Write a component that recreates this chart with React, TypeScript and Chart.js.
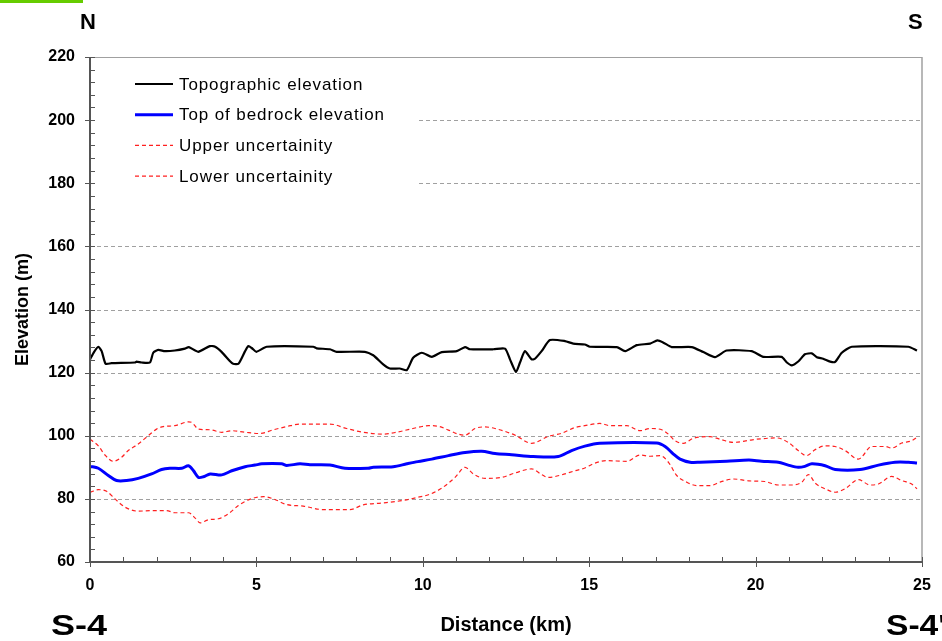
import React, { useEffect, useRef } from "react";
import { Chart, registerables } from "chart.js";

Chart.register(...registerables);

const FONT = "'Liberation Sans', Arial, Helvetica, sans-serif";

// ---- Data (distance in km, elevation in m) ----
const topoKm = [0, 0.12, 0.25, 0.35, 0.47, 0.65, 1.35, 1.4, 1.55, 1.8, 1.9, 2.05, 2.25, 2.55, 2.85, 2.97, 3.25, 3.6, 3.76, 3.96, 4.2, 4.3, 4.46, 4.66, 4.76, 4.86, 5.0, 5.31, 6.71, 6.81, 7.21, 7.41, 8.26, 8.51, 8.81, 9.01, 9.31, 9.52, 9.71, 9.97, 10.27, 10.57, 11.02, 11.27, 11.42, 12.12, 12.47, 12.62, 12.8, 12.92, 13.07, 13.27, 13.37, 13.57, 13.82, 14.27, 14.52, 14.87, 15.02, 15.83, 16.08, 16.43, 16.83, 17.05, 17.23, 17.48, 18.08, 18.43, 18.78, 19.13, 19.88, 20.23, 20.78, 20.94, 21.09, 21.29, 21.48, 21.69, 21.84, 22.03, 22.24, 22.39, 22.59, 22.89, 24.59, 24.85];
const topoElev = [124.2, 126.5, 128.2, 126.8, 122.8, 123.0, 123.2, 123.5, 123.2, 123.2, 126.3, 127.2, 126.8, 127.0, 127.6, 128.1, 126.6, 128.4, 128.2, 126.5, 123.7, 122.8, 122.8, 126.8, 128.4, 127.8, 126.6, 128.2, 128.2, 127.7, 127.4, 126.6, 126.6, 125.5, 122.6, 121.3, 121.3, 120.8, 124.7, 126.3, 125.0, 126.5, 126.8, 128.1, 127.4, 127.4, 127.6, 124.2, 120.2, 123.2, 126.8, 124.2, 124.4, 126.8, 130.3, 130.0, 129.2, 128.9, 128.2, 128.1, 126.8, 128.7, 129.2, 130.2, 129.5, 128.1, 128.1, 126.5, 124.9, 127.0, 126.8, 125.0, 125.0, 123.2, 122.3, 123.6, 125.8, 126.1, 124.9, 124.4, 123.5, 123.4, 126.3, 128.2, 128.2, 127.0];

const bedKm = [0, 0.25, 0.55, 0.8, 1.1, 1.45, 1.85, 2.15, 2.4, 2.76, 2.96, 3.11, 3.26, 3.41, 3.61, 3.96, 4.26, 4.66, 4.96, 5.16, 5.76, 5.91, 6.31, 6.61, 7.21, 7.66, 8.36, 8.51, 9.11, 9.52, 9.85, 10.27, 10.77, 11.27, 11.77, 12.17, 12.67, 13.32, 14.07, 14.47, 14.87, 15.32, 17.03, 17.28, 17.53, 17.73, 18.03, 18.33, 19.13, 19.8, 20.18, 20.68, 20.98, 21.28, 21.48, 21.69, 22.09, 22.39, 23.14, 23.69, 24.19, 24.59, 24.85];
const bedElev = [90.3, 89.7, 87.4, 85.8, 85.8, 86.5, 87.9, 89.3, 89.7, 89.7, 90.5, 88.9, 86.8, 87.0, 87.9, 87.6, 88.9, 90.2, 90.7, 91.1, 91.1, 90.6, 91.1, 90.8, 90.7, 89.7, 89.7, 90.0, 90.2, 91.1, 91.8, 92.6, 93.7, 94.7, 95.1, 94.4, 94.0, 93.4, 93.4, 95.3, 96.7, 97.6, 97.7, 96.6, 94.2, 92.6, 91.6, 91.6, 91.9, 92.3, 91.9, 91.6, 90.7, 90.0, 90.3, 91.1, 90.5, 89.3, 89.3, 90.7, 91.6, 91.6, 91.4];

const upperKm = [0, 0.25, 0.45, 0.7, 0.95, 1.15, 1.45, 1.75, 2.0, 2.2, 2.55, 2.96, 3.06, 3.26, 3.61, 3.96, 4.26, 4.66, 5.1, 5.51, 5.91, 6.31, 7.21, 7.71, 8.11, 8.81, 9.21, 9.62, 9.92, 10.17, 10.47, 10.77, 11.07, 11.27, 11.57, 11.87, 12.17, 12.77, 13.27, 13.77, 14.17, 14.57, 14.87, 15.32, 15.62, 16.13, 16.53, 16.83, 17.18, 17.38, 17.58, 17.83, 18.13, 18.63, 18.93, 19.33, 19.83, 20.03, 20.63, 20.98, 21.28, 21.53, 21.79, 22.09, 22.39, 22.69, 23.09, 23.49, 23.89, 24.09, 24.39, 24.69, 24.85];
const upperElev = [98.9, 96.8, 93.9, 91.9, 93.2, 95.3, 97.4, 100.0, 102.1, 102.9, 103.2, 104.4, 104.2, 102.1, 101.9, 101.1, 101.6, 101.1, 100.7, 101.9, 102.9, 103.7, 103.7, 102.3, 101.3, 100.5, 101.1, 102.1, 102.8, 103.2, 103.0, 101.8, 100.5, 100.2, 102.3, 102.8, 102.3, 100.2, 97.6, 99.8, 100.8, 102.6, 103.2, 103.9, 103.2, 103.2, 101.6, 102.3, 101.9, 100.5, 98.4, 97.6, 99.2, 99.7, 98.9, 97.9, 98.6, 98.9, 99.3, 97.9, 95.3, 93.7, 95.6, 96.8, 96.6, 95.3, 92.6, 96.6, 96.6, 96.1, 97.7, 98.4, 99.5];

const lowerKm = [0, 0.25, 0.5, 0.75, 1.05, 1.45, 1.85, 2.3, 2.55, 2.96, 3.16, 3.31, 3.56, 3.86, 4.16, 4.46, 4.76, 5.21, 5.51, 5.91, 6.41, 7.01, 7.81, 8.21, 8.81, 9.41, 9.85, 10.17, 10.57, 10.97, 11.27, 11.52, 11.87, 12.37, 12.77, 13.27, 13.57, 13.77, 14.17, 14.57, 14.87, 15.12, 15.52, 16.13, 16.53, 16.83, 17.13, 17.38, 17.63, 17.93, 18.23, 18.63, 18.93, 19.33, 19.8, 20.28, 20.68, 21.09, 21.39, 21.59, 21.79, 22.09, 22.39, 22.69, 23.09, 23.44, 23.69, 24.09, 24.39, 24.69, 24.85];
const lowerElev = [82.1, 82.9, 82.4, 80.0, 77.4, 76.1, 76.3, 76.3, 75.6, 75.6, 73.9, 72.4, 73.4, 73.7, 75.3, 77.9, 79.7, 80.7, 80.0, 78.2, 77.7, 76.6, 76.6, 78.1, 78.7, 79.5, 80.5, 81.3, 83.4, 86.8, 90.0, 87.9, 86.5, 86.8, 88.2, 89.5, 87.7, 86.8, 87.6, 88.9, 89.8, 91.1, 92.1, 91.9, 93.9, 93.5, 93.7, 91.6, 87.4, 85.3, 84.2, 84.2, 85.3, 86.3, 85.7, 85.5, 84.4, 84.4, 85.3, 87.7, 85.0, 83.2, 82.1, 83.2, 86.1, 84.4, 84.7, 87.1, 85.8, 84.7, 83.2];

const seriesLabels = ["Topographic elevation", "Top of bedrock elevation", "Upper uncertainity", "Lower uncertainity"];

const xMin = 0, xMax = 25, xStep = 5, xMinorStep = 1;
const yMin = 60, yMax = 220, yStep = 20, yMinorStep = 4;

const pts = (xs: number[], ys: number[]) => xs.map((x, i) => ({ x, y: ys[i] }));

const framePlugin = {
  id: "frame",
  beforeDatasetsDraw(chart: any) {
    const { ctx, chartArea: a, scales } = chart;
    const ys = scales.y;
    ctx.save();
    // horizontal gridlines
    for (let v = yMin + yStep; v <= yMax; v += yStep) {
      const y = Math.round(ys.getPixelForValue(v)) + 0.5;
      ctx.beginPath();
      ctx.strokeStyle = "#a0a0a0";
      ctx.lineWidth = 1;
      ctx.setLineDash(v === yMax ? [] : [4, 3]);
      ctx.moveTo(a.left, y);
      ctx.lineTo(a.right, y);
      ctx.stroke();
    }
    ctx.setLineDash([]);
    // right border
    ctx.beginPath();
    ctx.strokeStyle = "#a0a0a0";
    ctx.lineWidth = 1.5;
    ctx.moveTo(a.right, a.top);
    ctx.lineTo(a.right, a.bottom);
    ctx.stroke();

    // legend box
    ctx.fillStyle = "#ffffff";
    ctx.fillRect(a.left + 1, a.top + 2, 325, 137);
    chart.data.datasets.forEach((ds: any, i: number) => {
      const y = a.top + 27 + i * 30.7;
      ctx.beginPath();
      ctx.strokeStyle = ds.borderColor;
      ctx.lineWidth = ds.borderWidth;
      ctx.setLineDash(ds.borderDash || []);
      ctx.moveTo(a.left + 45, y);
      ctx.lineTo(a.left + 83, y);
      ctx.stroke();
      ctx.setLineDash([]);
      ctx.fillStyle = "#000";
      ctx.font = `17px ${FONT}`;
      try { (ctx as any).letterSpacing = "0.9px"; } catch (e) { /* ignore */ }
      ctx.textBaseline = "middle";
      ctx.textAlign = "left";
      ctx.fillText(ds.label, a.left + 89, y + 1);
      try { (ctx as any).letterSpacing = "0px"; } catch (e) { /* ignore */ }
    });
    ctx.restore();
  },
  afterDatasetsDraw(chart: any) {
    const { ctx, chartArea: a, scales } = chart;
    const xs = scales.x, ys = scales.y;
    ctx.save();
    ctx.strokeStyle = "#555";
    // axis lines
    ctx.lineWidth = 2;
    ctx.beginPath();
    ctx.moveTo(a.left, a.top);
    ctx.lineTo(a.left, a.bottom);
    ctx.moveTo(a.left, a.bottom);
    ctx.lineTo(a.right, a.bottom);
    ctx.stroke();
    ctx.lineWidth = 1;
    ctx.beginPath();
    for (let v = yMin; v <= yMax; v += yMinorStep) {
      const y = Math.round(ys.getPixelForValue(v)) + 0.5;
      const major = (v - yMin) % yStep === 0;
      ctx.moveTo(a.left - (major ? 5 : 0), y);
      ctx.lineTo(a.left + 5, y);
    }
    for (let v = xMin; v <= xMax; v += xMinorStep) {
      const x = Math.round(xs.getPixelForValue(v)) + 0.5;
      const major = (v - xMin) % xStep === 0;
      ctx.moveTo(x, a.bottom - 5);
      ctx.lineTo(x, a.bottom + (major ? 5 : 0));
    }
    ctx.stroke();
    ctx.restore();
  },
};

export default function App() {
  const ref = useRef<HTMLCanvasElement>(null);
  useEffect(() => {
    const chart = new Chart(ref.current as HTMLCanvasElement, {
      type: "line",
      data: {
        datasets: [
          { label: seriesLabels[0], data: pts(topoKm, topoElev), borderColor: "#000000", borderWidth: 2.2, pointRadius: 0, tension: 0.2 },
          { label: seriesLabels[1], data: pts(bedKm, bedElev), borderColor: "#0000ff", borderWidth: 3, pointRadius: 0, tension: 0.3 },
          { label: seriesLabels[2], data: pts(upperKm, upperElev), borderColor: "#ff2020", borderWidth: 1.2, borderDash: [4, 3], pointRadius: 0, cubicInterpolationMode: "monotone" },
          { label: seriesLabels[3], data: pts(lowerKm, lowerElev), borderColor: "#ff2020", borderWidth: 1.2, borderDash: [4, 3], pointRadius: 0, cubicInterpolationMode: "monotone" },
        ] as any,
      },
      options: {
        responsive: false,
        animation: false,
        devicePixelRatio: 1,
        layout: { padding: { top: 57, right: 20, left: 0, bottom: 0 } },
        plugins: { legend: { display: false }, tooltip: { enabled: false } },
        scales: {
          x: {
            type: "linear",
            min: xMin,
            max: xMax,
            ticks: { stepSize: xStep, padding: 14, color: "#000", font: { family: FONT, size: 16, weight: "bold" } },
            grid: { display: false, drawTicks: false },
            border: { display: false },
            title: { display: true, text: "Distance (km)", color: "#000", font: { family: FONT, size: 20, weight: "bold" }, padding: { top: 0, bottom: 4 } },
            afterFit: (s: any) => { s.height = 79; s.paddingLeft = 0; s.paddingRight = 0; },
          },
          y: {
            type: "linear",
            min: yMin,
            max: yMax,
            ticks: { stepSize: yStep, padding: 15, color: "#000", font: { family: FONT, size: 16, weight: "bold" } },
            grid: { display: false, drawTicks: false },
            border: { display: false },
            title: { display: true, text: "Elevation (m)", color: "#000", font: { family: FONT, size: 18, weight: "bold" }, padding: { top: 12, bottom: 0 } },
            afterFit: (s: any) => { s.width = 90; s.paddingTop = 0; s.paddingBottom = 0; },
          },
        },
      } as any,
      plugins: [framePlugin],
    });
    return () => chart.destroy();
  }, []);

  const big = { position: "absolute" as const, fontFamily: FONT, fontWeight: "bold" as const, color: "#000", lineHeight: 1, whiteSpace: "nowrap" as const };
  return (
    <div style={{ position: "fixed", left: 0, top: 0, width: 942, height: 641, background: "#fff", overflow: "hidden" }}>
      <canvas ref={ref} width={942} height={641} style={{ display: "block", width: 942, height: 641 }} />
      <div style={{ position: "absolute", left: 0, top: 0, width: 83, height: 3, background: "#66cc00" }} />
      <div style={{ ...big, left: 80, top: 11, fontSize: 22 }}>N</div>
      <div style={{ ...big, left: 908, top: 11, fontSize: 22 }}>S</div>
      <div style={{ ...big, left: 51, top: 610, fontSize: 30, transform: "scaleX(1.2)", transformOrigin: "left top" }}>S-4</div>
      <div style={{ ...big, left: 886, top: 610, fontSize: 30, transform: "scaleX(1.12)", transformOrigin: "left top" }}>S-4'</div>
    </div>
  );
}
